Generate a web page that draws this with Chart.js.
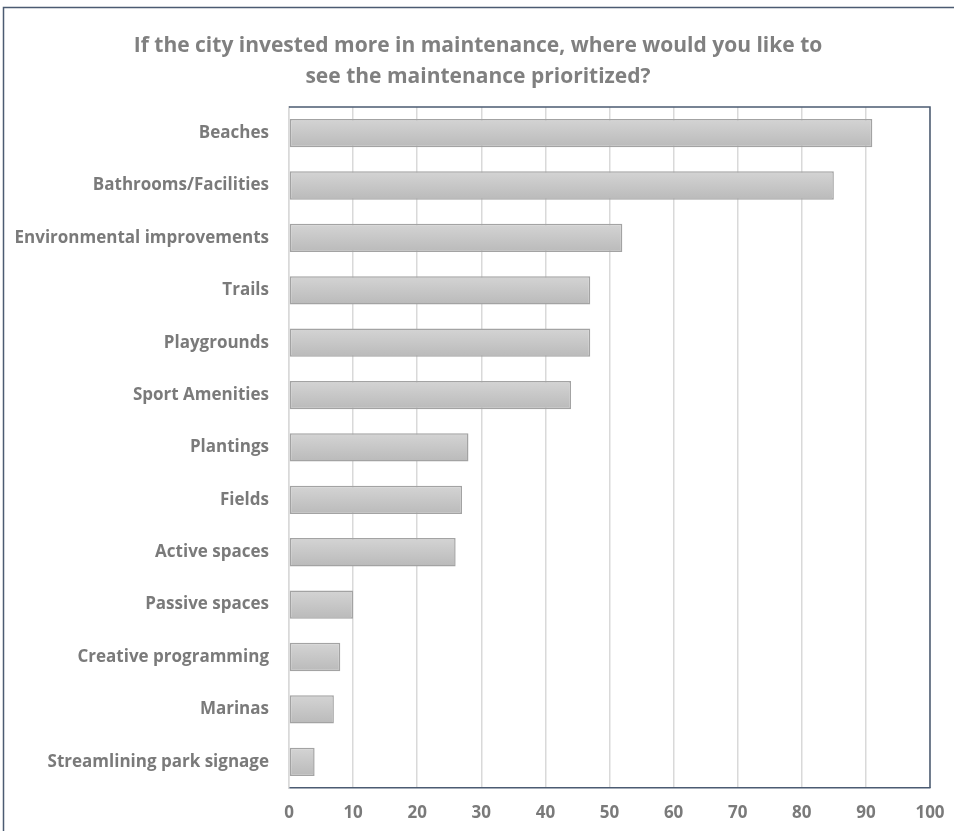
<!DOCTYPE html>
<html>
<head>
<meta charset="utf-8">
<script src="https://cdn.jsdelivr.net/npm/chart.js@4/dist/chart.umd.min.js"></script>
<style>
  html, body { margin: 0; padding: 0; background: #ffffff; }
  #wrap { position: relative; width: 954px; height: 831px; }
</style>
</head>
<body>
<div id="wrap"><canvas id="c" width="954" height="831"></canvas></div>
<script>
const titleLines = ["If the city invested more in maintenance, where would you like to", "see the maintenance prioritized?"];
const categories = ["Beaches", "Bathrooms/Facilities", "Environmental improvements", "Trails", "Playgrounds", "Sport Amenities", "Plantings", "Fields", "Active spaces", "Passive spaces", "Creative programming", "Marinas", "Streamlining park signage"];
const responses = [91, 85, 52, 47, 47, 44, 28, 27, 26, 10, 8, 7, 4];
const xMin = 0, xMax = 100, xStep = 10;

const FONT = "'Open Sans', Lato, 'DejaVu Sans', sans-serif";

const frame = {
  id: 'frame',
  beforeDatasetsDraw(chart) {
    const ctx = chart.ctx;
    const meta = chart.getDatasetMeta(0);
    meta.data.forEach(el => {
      const top = el.y - el.height / 2, bot = el.y + el.height / 2;
      const g = ctx.createLinearGradient(0, top, 0, bot);
      g.addColorStop(0, '#d4d4d4');
      g.addColorStop(1, '#bababa');
      el.options.backgroundColor = g;
    });
  },
  afterDraw(chart) {
    const ctx = chart.ctx, a = chart.chartArea;
    ctx.save();
    ctx.strokeStyle = '#4b5b72';
    ctx.lineWidth = 1.5;
    ctx.beginPath();
    ctx.moveTo(a.left, a.top);
    ctx.lineTo(a.right, a.top);
    ctx.lineTo(a.right, a.bottom);
    ctx.stroke();
    // outer chart frame
    ctx.beginPath();
    ctx.moveTo(3.5, 835);
    ctx.lineTo(3.5, 7.5);
    ctx.lineTo(960, 7.5);
    ctx.stroke();
    ctx.restore();
  }
};

new Chart(document.getElementById('c'), {
  type: 'bar',
  data: {
    labels: categories,
    datasets: [{
      data: responses,
      yAxisID: 'y',
      backgroundColor: (c) => '#c8c8c8',
      borderColor: '#a3a3a3',
      borderWidth: 1.5,
      borderSkipped: false,
      categoryPercentage: 1,
      barPercentage: 0.54
    }]
  },
  options: {
    indexAxis: 'y',
    responsive: false,
    animation: false,
    layout: { padding: { left: 10, right: 8, top: 0, bottom: 0 } },
    plugins: {
      legend: { display: false },
      tooltip: { enabled: false },
      title: {
        display: true,
        text: titleLines,
        color: '#808080',
        font: { family: FONT, size: 21, weight: 'bold', lineHeight: 1.45 },
        padding: { top: 31, bottom: 15 }
      }
    },
    scales: {
      x: {
        min: xMin, max: xMax,
        ticks: { stepSize: xStep, color: '#7a7a7a', font: { family: FONT, size: 17, weight: 'bold' }, padding: 15 },
        grid: { color: '#d9d9d9', lineWidth: 1.5, drawTicks: false },
        border: { color: '#4b5b72', width: 1.5 },
        afterFit(s) { s.height = 43; s.paddingLeft = 0; s.paddingRight = 0; }
      },
      y: {
        position: 'left',
        ticks: { color: '#7a7a7a', font: { family: FONT, size: 17, weight: 'bold' }, padding: 20 },
        grid: { display: false, drawTicks: false },
        border: { color: '#d9d9d9', width: 1.5 },
        afterFit(s) { s.width = 279; s.paddingTop = 0; s.paddingBottom = 0; }
      },
      yRightSpacer: {
        type: 'category',
        position: 'right',
        ticks: { display: false },
        grid: { display: false, drawTicks: false },
        border: { display: false },
        afterFit(s) { s.width = 16; s.paddingTop = 0; s.paddingBottom = 0; }
      }
    }
  },
  plugins: [frame]
});
</script>
</body>
</html>
